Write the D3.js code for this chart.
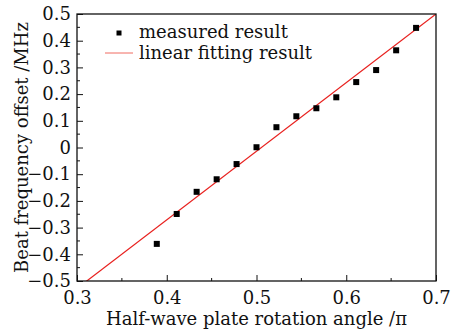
<!DOCTYPE html>
<html>
<head>
<meta charset="utf-8">
<script src="https://cdn.jsdelivr.net/npm/d3@7"></script>
<style>
  body { margin: 0; background: #fff; }
  text { font-family: "DejaVu Serif", serif; fill: #111; }
</style>
</head>
<body>
<div id="chart"></div>
<script>
// measured points
var angle = [0.3889, 0.4111, 0.4333, 0.4556, 0.4778, 0.5, 0.5222, 0.5444, 0.5667, 0.5889, 0.6111, 0.6333, 0.6556, 0.6778];
var offset = [-0.361, -0.249, -0.166, -0.119, -0.062, 0.001, 0.076, 0.117, 0.147, 0.188, 0.245, 0.290, 0.364, 0.448];

// linear fit y = slope * x + intercept
var fitSlope = 2.57;
var fitIntercept = -1.299;

var xTicks = [0.3, 0.4, 0.5, 0.6, 0.7];
var yTicks = [-0.5, -0.4, -0.3, -0.2, -0.1, 0, 0.1, 0.2, 0.3, 0.4, 0.5];
var legendLabels = ["measured result", "linear fitting result"];

var W = 463, H = 331;
var margin = {top: 14, right: 27, bottom: 50, left: 77},
    width = W - margin.left - margin.right,
    height = H - margin.top - margin.bottom;
var fontSize = "18px";

var svg = d3.select("#chart").append("svg")
    .attr("width", W)
    .attr("height", H);

var g = svg.append("g")
    .attr("transform", "translate(" + margin.left + "," + margin.top + ")");

var x = d3.scaleLinear().domain([0.3, 0.7]).range([0, width]);
var y = d3.scaleLinear().domain([-0.5, 0.5]).range([height, 0]);

function fmt(d) {
  return d < 0 ? "\u2212" + Math.abs(d) : String(d);
}

// minor ticks (inward)
var xMinor = d3.range(0.35, 0.7, 0.1);
var yMinor = d3.range(-0.45, 0.5, 0.1);

g.selectAll("line.xminor").data(xMinor).enter().append("line")
    .attr("x1", function(d) { return x(d); })
    .attr("x2", function(d) { return x(d); })
    .attr("y1", height).attr("y2", height - 3)
    .attr("stroke", "#111").attr("stroke-width", 1);

g.selectAll("line.yminor").data(yMinor).enter().append("line")
    .attr("x1", 0).attr("x2", 3)
    .attr("y1", function(d) { return y(d); })
    .attr("y2", function(d) { return y(d); })
    .attr("stroke", "#111").attr("stroke-width", 1);

// axes
var xAxis = g.append("g")
    .attr("transform", "translate(0," + height + ")")
    .call(d3.axisBottom(x).tickValues(xTicks).tickFormat(fmt).tickSizeInner(-6).tickSizeOuter(0).tickPadding(10));

var yAxis = g.append("g")
    .call(d3.axisLeft(y).tickValues(yTicks).tickFormat(fmt).tickSizeInner(-6).tickSizeOuter(0).tickPadding(6));

[xAxis, yAxis].forEach(function(a) {
  a.select(".domain").remove();
  a.selectAll("text").style("font-family", "DejaVu Serif").style("font-size", fontSize).attr("fill", "#111");
  a.selectAll("line").attr("stroke", "#111");
});

// clip for the fit line
svg.append("clipPath").attr("id", "plotclip")
  .append("rect").attr("width", width).attr("height", height);

var fitLine = d3.line()
    .x(function(d) { return x(d); })
    .y(function(d) { return y(fitSlope * d + fitIntercept); });

g.append("path")
    .datum(x.domain())
    .attr("clip-path", "url(#plotclip)")
    .attr("d", fitLine)
    .attr("fill", "none")
    .attr("stroke", "#e8201e")
    .attr("stroke-width", 1.2);

// measured points
var pts = angle.map(function(a, i) { return {x: a, y: offset[i]}; });
var s = 6;
g.selectAll("rect.pt").data(pts).enter().append("rect")
    .attr("class", "pt")
    .attr("x", function(d) { return x(d.x) - s / 2; })
    .attr("y", function(d) { return y(d.y) - s / 2; })
    .attr("width", s).attr("height", s)
    .attr("fill", "#000");

// frame
g.append("rect")
    .attr("width", width).attr("height", height)
    .attr("fill", "none").attr("stroke", "#111").attr("stroke-width", 1.3);

// legend
var leg = g.append("g");
leg.append("rect")
    .attr("x", 42 - 2.5).attr("y", 19 - 2.5)
    .attr("width", 5).attr("height", 5).attr("fill", "#000");
leg.append("line")
    .attr("x1", 28).attr("x2", 56).attr("y1", 39).attr("y2", 39)
    .attr("stroke", "#f06a60").attr("stroke-width", 1);
leg.selectAll("text").data(legendLabels).enter().append("text")
    .attr("x", 62)
    .attr("y", function(d, i) { return 24 + i * 21; })
    .style("font-size", fontSize)
    .text(function(d) { return d; });

// axis titles
svg.append("text")
    .attr("x", margin.left + width / 2)
    .attr("y", 325)
    .attr("text-anchor", "middle")
    .style("font-size", fontSize)
    .text("Half-wave plate rotation angle /\u03c0");

svg.append("text")
    .attr("transform", "translate(28," + (margin.top + height / 2) + ") rotate(-90)")
    .attr("text-anchor", "middle")
    .style("font-size", fontSize)
    .text("Beat frequency offset /MHz");
</script>
</body>
</html>
